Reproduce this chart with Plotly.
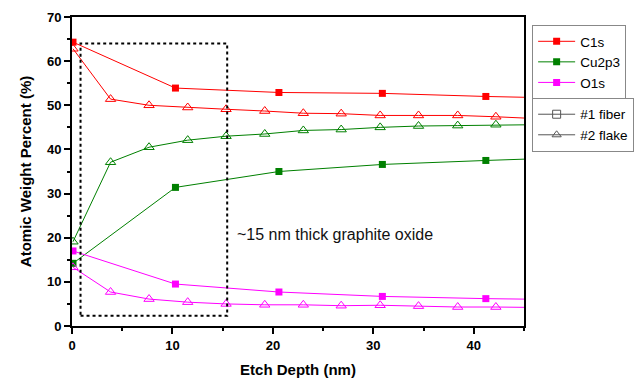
import plotly.graph_objects as go

# ---- data ----
fiber_x = [0.1, 10.3, 20.6, 30.9, 41.2, 51.5]
fiber_c1s = [64.3, 53.9, 52.9, 52.7, 52.0, 51.5]
fiber_cu2p3 = [14.2, 31.4, 35.0, 36.6, 37.5, 38.3]
fiber_o1s = [17.0, 9.5, 7.7, 6.7, 6.2, 5.9]

flake_x = [0.1, 3.84, 7.67, 11.52, 15.34, 19.19, 23.03, 26.8, 30.68, 34.5, 38.4, 42.2, 46.05]
flake_c1s = [62.8, 51.4, 50.0, 49.5, 49.1, 48.7, 48.2, 48.1, 47.7, 47.7, 47.7, 47.4, 47.0]
flake_cu2p3 = [19.1, 37.1, 40.5, 42.1, 43.0, 43.5, 44.3, 44.5, 45.0, 45.3, 45.4, 45.6, 45.6]
flake_o1s = [13.3, 7.7, 6.1, 5.4, 5.0, 4.8, 4.8, 4.6, 4.7, 4.5, 4.3, 4.3, 4.2]

elements = ["C1s", "Cu2p3", "O1s"]
colors = ["#FF0000", "#008000", "#FF00FF"]
samples = ["#1 fiber", "#2 flake"]

FONT = "Liberation Sans, Arial, sans-serif"

fig = go.Figure()

fiber_sets = [fiber_c1s, fiber_cu2p3, fiber_o1s]
flake_sets = [flake_c1s, flake_cu2p3, flake_o1s]

for name, col, fy, ly in zip(elements, colors, fiber_sets, flake_sets):
    fig.add_trace(go.Scatter(
        x=flake_x, y=ly, mode="lines+markers", showlegend=False,
        line=dict(color=col, width=1),
        marker=dict(symbol="triangle-up-open", size=9, color=col, line=dict(width=1)),
        cliponaxis=True,
    ))
    fig.add_trace(go.Scatter(
        x=fiber_x, y=fy, mode="lines+markers", name=name, legend="legend",
        line=dict(color=col, width=1),
        marker=dict(symbol="square", size=7, color=col),
        cliponaxis=True,
    ))

for s, sym in zip(samples, ["square-open", "triangle-up-open"]):
    fig.add_trace(go.Scatter(
        x=[None], y=[None], mode="lines+markers", name=s, legend="legend2",
        line=dict(color="#555555", width=1),
        marker=dict(symbol=sym, size=8, color="#555555", line=dict(width=1)),
    ))

# dotted box marking the graphite oxide region
fig.add_shape(type="rect", x0=0.85, x1=15.45, y0=2.3, y1=64.0,
              xref="x", yref="y", line=dict(color="black", width=2, dash="dot"))

fig.add_annotation(x=16.2, y=20.8, xref="x", yref="y", xanchor="left", yanchor="middle",
                   text="~15 nm thick graphite oxide", showarrow=False,
                   font=dict(family=FONT, size=16, color="#111111"))

axis_common = dict(
    showline=True, linecolor="black", linewidth=2, mirror=True,
    ticks="outside", ticklen=6, tickwidth=2, tickcolor="black",
    showgrid=False, zeroline=False,
    tickfont=dict(family=FONT, size=13, color="black", weight="bold"),
)

fig.update_xaxes(range=[0, 45], dtick=10, tick0=0,
                 minor=dict(dtick=5, ticklen=3, ticks="outside", tickwidth=2, tickcolor="black"),
                 title=dict(text="Etch Depth (nm)", standoff=14,
                            font=dict(family=FONT, size=15, color="black", weight="bold")),
                 **axis_common)
fig.update_yaxes(range=[0, 70], dtick=10, tick0=0,
                 minor=dict(dtick=5, ticklen=3, ticks="outside", tickwidth=2, tickcolor="black"),
                 title=dict(text="Atomic Weight Percent (%)", standoff=12,
                            font=dict(family=FONT, size=15, color="black", weight="bold")),
                 **axis_common)

legend_common = dict(
    xref="paper", yref="paper", xanchor="left", yanchor="top",
    bordercolor="#888888", borderwidth=1, bgcolor="white",
    font=dict(family=FONT, size=13.5, color="black"),
    itemwidth=37, tracegroupgap=0,
)

fig.update_layout(
    width=634, height=378,
    margin=dict(l=72, r=110, t=17, b=52, autoexpand=False),
    plot_bgcolor="white", paper_bgcolor="white",
    showlegend=True,
    legend=dict(x=1.018, y=0.974, **legend_common),
    legend2=dict(x=1.018, y=0.738, **legend_common),
)

fig.write_html("out.html")
